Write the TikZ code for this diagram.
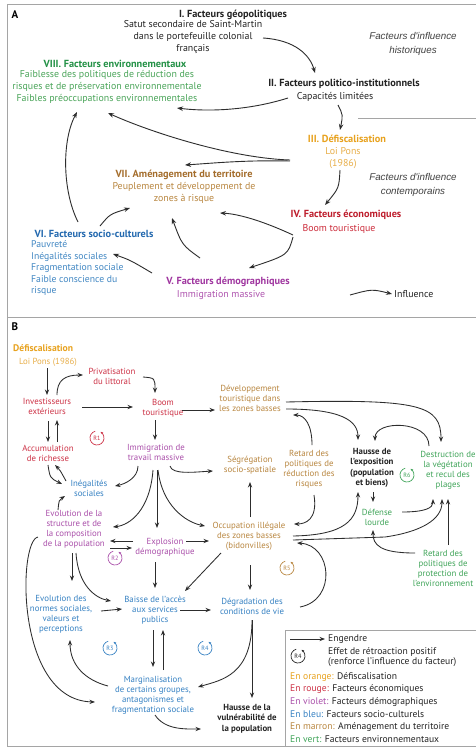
\documentclass[tikz,border=0pt]{standalone}
\usepackage{fontspec}
\setmainfont{PT Sans}
\newfontfamily\arialit{Liberation Sans}
\usetikzlibrary{arrows.meta,calc}
\definecolor{arrc}{RGB}{45,45,45}
\definecolor{frm}{RGB}{165,165,165}
\definecolor{oT}{RGB}{232,162,30}
\definecolor{oS}{RGB}{232,175,75}
\definecolor{redT}{RGB}{190,30,45}
\definecolor{redS}{RGB}{205,45,60}
\definecolor{purT}{RGB}{160,55,160}
\definecolor{purS}{RGB}{175,85,175}
\definecolor{bluT}{RGB}{35,105,175}
\definecolor{bluS}{RGB}{65,135,195}
\definecolor{brT}{RGB}{165,110,45}
\definecolor{brS}{RGB}{185,135,65}
\definecolor{grT}{RGB}{35,145,70}
\definecolor{grS}{RGB}{75,165,90}
\definecolor{rB}{RGB}{205,50,70}
\definecolor{pB}{RGB}{170,80,170}
\definecolor{bB}{RGB}{55,130,195}
\definecolor{brB}{RGB}{185,135,65}
\definecolor{gB}{RGB}{65,165,90}
\definecolor{txt}{RGB}{35,35,35}
\newcommand{\rmark}[4]{%
  \node[rm=#4] (#1) at #2 {#3};
  \draw[#4, line width=0.7pt, -{Stealth[length=2.6pt,width=2.6pt]}] ([shift={(105:7pt)}]#1.center) arc[start angle=105, end angle=420, radius=7pt];}
\begin{document}
\begin{tikzpicture}[x=1pt,y=-1pt,
  fa/.style={font=\fontsize{9.9}{12}\selectfont, inner sep=0pt, align=center, text=txt},
  fat/.style={fa, font=\fontsize{10.3}{12}\selectfont\bfseries},
  itf/.style={font=\arialit\itshape\fontsize{9.8}{13.5}\selectfont, align=center, inner sep=0pt, text=black!75},
  fb/.style={font=\fontsize{8.8}{10}\selectfont, inner sep=0pt, align=center, text=txt},
  fbb/.style={fb, font=\fontsize{8.8}{10.5}\selectfont\bfseries},
  fl/.style={font=\fontsize{9.6}{10.8}\selectfont, inner sep=0pt, text=txt},
  rm/.style={font=\fontsize{6.2}{7}\selectfont, inner sep=0pt, text=#1},
  arr/.style={draw=arrc, line width=0.9pt, -{Stealth[length=6pt,width=4.5pt]}},
  arrb/.style={draw=arrc, line width=0.85pt, -{Stealth[length=5.5pt,width=4.2pt]}},
  frame/.style={draw=frm, line width=1pt}]
\useasboundingbox (0,0) rectangle (476,755);
\fill[white] (0,0) rectangle (476,755);
% frames
\draw[frame] (476,4) -- (7,4) -- (7,746) -- (476,746);
\draw[frame] (7,317) -- (476,317);
\draw[frame] (358,118) -- (476,118);
\draw[frame] (476,630) -- (285,630) -- (285,746);

% ---------------- Panel A ----------------
\node[font=\fontsize{11}{12}\selectfont\bfseries, inner sep=0pt] (lA) at (15,15) {A};
\node[fat] (n1t) at (233,15) {I. Facteurs géopolitiques};
\node[fa] (n1s) at (193,37) {Satut secondaire de Saint-Martin\\dans le portefeuille colonial\\français};
\node[itf] (nHist) at (413,44) {Facteurs d'influence\\historiques};
\node[fat, text=grT] (n8t) at (115,64) {VIII. Facteurs environnementaux};
\node[fa, text=grS] (n8s) at (107,87) {Faiblesse des politiques de réduction des\\risques et de préservation environnementale\\Faibles préoccupations environnementales};
\node[fat] (n2t) at (344,84) {II. Facteurs politico-institutionnels};
\node[fa] (n2s) at (335,97) {Capacités limitées};
\node[fat, text=oT] (n3t) at (347,139) {III. Défiscalisation};
\node[fa, text=oS] (n3s) at (343,158) {Loi Pons\\(1986)};
\node[fat, text=brT] (n7t) at (184,175) {VII. Aménagement du territoire};
\node[fa, text=brS] (n7s) at (184,192.5) {Peuplement et développement de\\zones à risque};
\node[itf] (nCont) at (413,185) {Facteurs d'influence\\contemporains};
\node[fat, text=redT] (n4t) at (346,215) {IV. Facteurs économiques};
\node[fa, text=redS] (n4s) at (339,229) {Boom touristique};
\node[fat, text=bluT] (n6t) at (94,234) {VI. Facteurs socio-culturels};
\node[fa, text=bluS, align=left, anchor=west, font=\fontsize{9.7}{11.5}\selectfont] (n6s) at (31,268) {Pauvreté\\Inégalités sociales\\Fragmentation sociale\\Faible conscience du\\risque};
\node[fat, text=purT] (n5t) at (228,282) {V. Facteurs démographiques};
\node[fa, text=purS] (n5s) at (221,295) {Immigration massive};
\node[fa, anchor=west] (nInfl) at (394,294) {Influence};

\draw[arr] ([shift={(70,1)}]n1s.center) .. controls (295,40) and (310,55) .. ([shift={(-29,-11)}]n2t.center);
\draw[arr] ([shift={(-47,1)}]n2s.center) .. controls (250,110) and (210,112) .. ([shift={(70,21)}]n8s.center);
\draw[arr] ([shift={(3,8)}]n2s.center) .. controls (343,115) .. ([shift={(-7,-9)}]n3t.center);
\draw[arr] ([shift={(-53,2)}]n3s.center) .. controls (230,158) and (150,132) .. ([shift={(1,26)}]n8s.center);
\draw[arr] ([shift={(-53,3)}]n3s.center) .. controls (245,160) and (215,163) .. ([shift={(1,-10)}]n7t.center);
\draw[arr] ([shift={(-3,12)}]n3s.center) .. controls (339,188) .. ([shift={(-21,-10)}]n4t.center);
\draw[arr] ([shift={(-16,-12)}]n6t.center) .. controls (62,190) and (62,140) .. ([shift={(-30,25)}]n8s.center);
\draw[arr] ([shift={(6,-8)}]n6t.center) .. controls (110,214) .. ([shift={(-54,15.5)}]n7s.center);
\draw[arr] ([shift={(-28,-24)}]n5t.center) .. controls (182,245) .. ([shift={(-12,25.5)}]n7s.center);
\draw[arr] ([shift={(-46,6)}]n4s.center) .. controls (265,222) and (240,214) .. ([shift={(36,20.5)}]n7s.center);
\draw[arr] ([shift={(-46,8)}]n4s.center) .. controls (288,255) .. ([shift={(21,-14)}]n5t.center);
\draw[arr] ([shift={(-76,-9)}]n5t.center) .. controls (130,260) .. ([shift={(82,-14)}]n6s.west);
\draw[arr] ([shift={(-44,1)}]nInfl.west) .. controls (372,289) .. ([shift={(-2,0)}]nInfl.west);

% ---------------- Panel B ----------------
\node[font=\fontsize{11}{12}\selectfont\bfseries, inner sep=0pt] (lB) at (15,327) {B};
\node[fb, text=oT, anchor=west, font=\fontsize{9.6}{10}\selectfont\bfseries] (nDef) at (13,348) {Défiscalisation};
\node[fb, text=oS] (nLoi) at (48,362) {Loi Pons (1986)};
\node[fb, text=rB] (nInv) at (47,406) {Investisseurs\\extérieurs};
\node[fb, text=rB] (nPriv) at (112,376.5) {Privatisation\\du littoral};
\node[fb, text=rB] (nBoom) at (163,408) {Boom\\touristique};
\node[fb, text=brB] (nDev) at (250,398.5) {Développement\\touristique dans\\les zones basses};
\node[fb, text=rB] (nAcc) at (48,453.5) {Accumulation\\de richesse};
\node[fb, text=pB] (nImm) at (156,452) {Immigration de\\travail massive};
\node[fb, text=brB] (nSeg) at (250,465) {Ségrégation\\socio-spatiale};
\node[fb, text=brB] (nRet1) at (309,469) {Retard des\\politiques de\\réduction des\\risques};
\node[fbb] (nHex) at (372,468) {Hausse de\\l'exposition\\(population\\et biens)};
\node[fb, text=gB] (nDes) at (448,470) {Destruction de\\la végétation\\et recul des\\plages};
\node[fb, text=bB] (nIneg) at (89,488) {Inégalités\\sociales};
\node[fb, text=pB] (nEvo) at (74,529) {Evolution de la\\structure et de\\la composition\\de la population};
\node[fb, text=gB] (nDfl) at (377,517.5) {Défense\\lourde};
\node[fb, text=brB] (nOcc) at (249,536) {Occupation illégale\\des zones basses\\(bidonvilles)};
\node[fb, text=pB] (nExp) at (165,547) {Explosion\\démographique};
\node[fb, text=gB] (nRet2) at (443,568) {Retard des\\politiques de\\protection de\\l'environnement};
\node[fb, text=bB] (nNorm) at (61,614) {Evolution des\\normes sociales,\\valeurs et\\perceptions};
\node[fb, text=bB] (nBai) at (155,610) {Baisse de l'accès\\aux services\\publics};
\node[fb, text=bB] (nDeg) at (252,606.5) {Dégradation des\\conditions de vie};
\node[fb, text=bB] (nMar) at (153,695.5) {Marginalisation\\de certains groupes,\\antagonismes et\\fragmentation sociale};
\node[fbb] (nHvu) at (247,718.5) {Hausse de la\\vulnérabilité de\\la population};

\rmark{r1}{(97,438)}{R1}{rB}
\rmark{r2}{(115,558)}{R2}{pB}
\rmark{r3}{(110,648)}{R3}{bB}
\rmark{r4}{(205,648)}{R4}{bB}
\rmark{r5}{(287,568)}{R5}{brB}
\rmark{r6}{(407,475)}{R6}{gB}

\draw[arrb] ([shift={(-1,6)}]nLoi.center) -- ([shift={(0,-11)}]nInv.center);
\draw[arrb] ([shift={(10,-11)}]nInv.center) .. controls (57,380) and (65,375) .. ([shift={(-29,-1.5)}]nPriv.center);
\draw[arrb] ([shift={(31,0.5)}]nPriv.center) .. controls (155,378) .. ([shift={(-8,-15)}]nBoom.center);
\draw[arrb] ([shift={(35,1)}]nInv.center) -- ([shift={(-30,-1)}]nBoom.center);
\draw[arrb] ([shift={(19,2)}]nBoom.center) -- ([shift={(-35,11.5)}]nDev.center);
\draw[arrb] ([shift={(1,15)}]nInv.center) -- ([shift={(0,-11.5)}]nAcc.center);
\draw[arrb] ([shift={(9,-11.5)}]nAcc.center) -- ([shift={(10,14)}]nInv.center);
\draw[arrb] ([shift={(-8,12)}]nBoom.center) -- ([shift={(-1,-12)}]nImm.center);
\draw[arrb] ([shift={(36,10.5)}]nDev.center) .. controls (340,409) and (358,420) .. ([shift={(-14,-28)}]nHex.center);
\draw[arrb] ([shift={(36,3.5)}]nDev.center) .. controls (420,399) and (441,405) .. ([shift={(-7,-28)}]nDes.center);
\draw[arrb] ([shift={(-19,-24)}]nDes.center) .. controls (429,420) and (375,420) .. ([shift={(3,-27)}]nHex.center);
\draw[arrb] ([shift={(3,-24)}]nRet1.center) .. controls (312,425) and (305,415) .. ([shift={(43,16.5)}]nDev.center);
\draw[arrb] ([shift={(5,26)}]nRet1.center) .. controls (318,520) and (305,524) .. ([shift={(45,-12)}]nOcc.center);
\draw[arrb] ([shift={(1,24)}]nHex.center) -- ([shift={(-4,-15.5)}]nDfl.center);
\draw[arrb] ([shift={(25,-5.5)}]nDfl.center) .. controls (425,512) and (433,508) .. ([shift={(-15,29)}]nDes.center);
\draw[arrb] ([shift={(44,0)}]nOcc.center) .. controls (345,535) and (358,520) .. ([shift={(-14,24)}]nHex.center);
\draw[arrb] ([shift={(44,4)}]nOcc.center) -- (385,537) .. controls (420,532) and (442,520) .. ([shift={(-6,29)}]nDes.center);
\draw[arrb] ([shift={(5,-23)}]nRet2.center) -- ([shift={(0,29)}]nDes.center);
\draw[arrb] ([shift={(-28,-15)}]nRet2.center) .. controls (380,553) and (373,545) .. ([shift={(-4,12.5)}]nDfl.center);
\draw[arrb] ([shift={(1,-19)}]nOcc.center) -- ([shift={(0,17)}]nSeg.center);
\draw[arrb] ([shift={(14,14)}]nImm.center) .. controls (172,475) and (195,472) .. ([shift={(-37,6)}]nSeg.center);
\draw[arrb] ([shift={(2,18)}]nImm.center) .. controls (162,505) and (185,522) .. ([shift={(-44,-10)}]nOcc.center);
\draw[arrb] ([shift={(1,18)}]nImm.center) -- ([shift={(-8,-19)}]nExp.center);
\draw[arrb] ([shift={(-3,18)}]nImm.center) .. controls (150,510) and (130,525) .. ([shift={(39,-2)}]nEvo.center);
\draw[arrb] ([shift={(-18,14)}]nImm.center) .. controls (138,478) and (125,484) .. ([shift={(26,-2)}]nIneg.center);
\draw[arrb] ([shift={(0,11.5)}]nAcc.center) .. controls (50,478) .. ([shift={(-27,-4)}]nIneg.center);
\draw[arrb] ([shift={(-23,-7)}]nIneg.center) .. controls (60,470) .. ([shift={(7,11.5)}]nAcc.center);
\draw[arrb] ([shift={(-16,-19)}]nEvo.center) .. controls (59,500) .. ([shift={(-24,8)}]nIneg.center);
\draw[arrb] ([shift={(-32,-6)}]nExp.center) -- ([shift={(36,12)}]nEvo.center);
\draw[arrb] ([shift={(36,19)}]nEvo.center) -- ([shift={(-33,1)}]nExp.center);
\draw[arrb] ([shift={(21,-6)}]nExp.center) -- ([shift={(-40,5)}]nOcc.center);
\draw[arrb] ([shift={(-10,15)}]nExp.center) -- ([shift={(0,-22)}]nBai.center);
\draw[arrb] ([shift={(-28,17)}]nOcc.center) -- ([shift={(30,-19)}]nBai.center);
\draw[arrb] ([shift={(-2,24)}]nEvo.center) -- ([shift={(11,-33)}]nNorm.center);
\draw[arrb] ([shift={(2,24)}]nEvo.center) .. controls (78,585) and (95,598) .. ([shift={(-44,-9)}]nBai.center);
\draw[arrb] ([shift={(1,29)}]nOcc.center) -- ([shift={(-2,-16.5)}]nDeg.center);
\draw[arrb] ([shift={(48,0.5)}]nDeg.center) .. controls (337,600) and (332,545) .. ([shift={(48,7)}]nOcc.center);
\draw[arrb] ([shift={(25,0)}]nBai.center) -- ([shift={(-41,3.5)}]nDeg.center);
\draw[arrb] ([shift={(40,-3)}]nNorm.center) -- ([shift={(-33,-1)}]nBai.center);
\draw[arrb] ([shift={(-2,20)}]nBai.center) -- ([shift={(0,-28.5)}]nMar.center);
\draw[arrb] ([shift={(10,-25.5)}]nMar.center) -- ([shift={(8,20)}]nBai.center);
\draw[arrb] ([shift={(-45,-9.5)}]nMar.center) .. controls (85,680) and (70,665) .. ([shift={(9,26)}]nNorm.center);
\draw[arrb] ([shift={(0,13.5)}]nDeg.center) .. controls (252,675) and (222,680) .. ([shift={(45,-8.5)}]nMar.center);
\draw[arrb] ([shift={(0,13.5)}]nDeg.center) -- ([shift={(5,-20.5)}]nHvu.center);
\draw[arrb] ([shift={(2,19.5)}]nMar.center) .. controls (165,730) and (185,729) .. ([shift={(-46,10.5)}]nHvu.center);
\draw[arrb] ([shift={(-36,8)}]nEvo.center) .. controls (18,540) and (15,700) .. ([shift={(-58,6.5)}]nMar.center);

% legend
\node[fl, anchor=west] (lgE) at (328,639) {Engendre};
\draw[arrb] ([shift={(-38,0)}]lgE.west) -- ([shift={(-3,0)}]lgE.west);
\rmark{lgR}{(298,656)}{R4}{txt}
\node[fl, anchor=west, align=left] (lgT) at (328,657) {Effet de rétroaction positif\\(renforce l'influence du facteur)};
\node[fl, anchor=west] (lg1) at (290,677) {\textcolor{oT}{En orange:} Défiscalisation};
\node[fl, anchor=west] (lg2) at (290,689.5) {\textcolor{rB}{En rouge:} Facteurs économiques};
\node[fl, anchor=west] (lg3) at (290,702) {\textcolor{pB}{En violet:} Facteurs démographiques};
\node[fl, anchor=west] (lg4) at (290,714.5) {\textcolor{bB}{En bleu:} Facteurs socio-culturels};
\node[fl, anchor=west] (lg5) at (290,727) {\textcolor{brB}{En marron:} Aménagement du territoire};
\node[fl, anchor=west] (lg6) at (290,739) {\textcolor{gB}{En vert:} Facteurs environnementaux};
\end{tikzpicture}
\end{document}
